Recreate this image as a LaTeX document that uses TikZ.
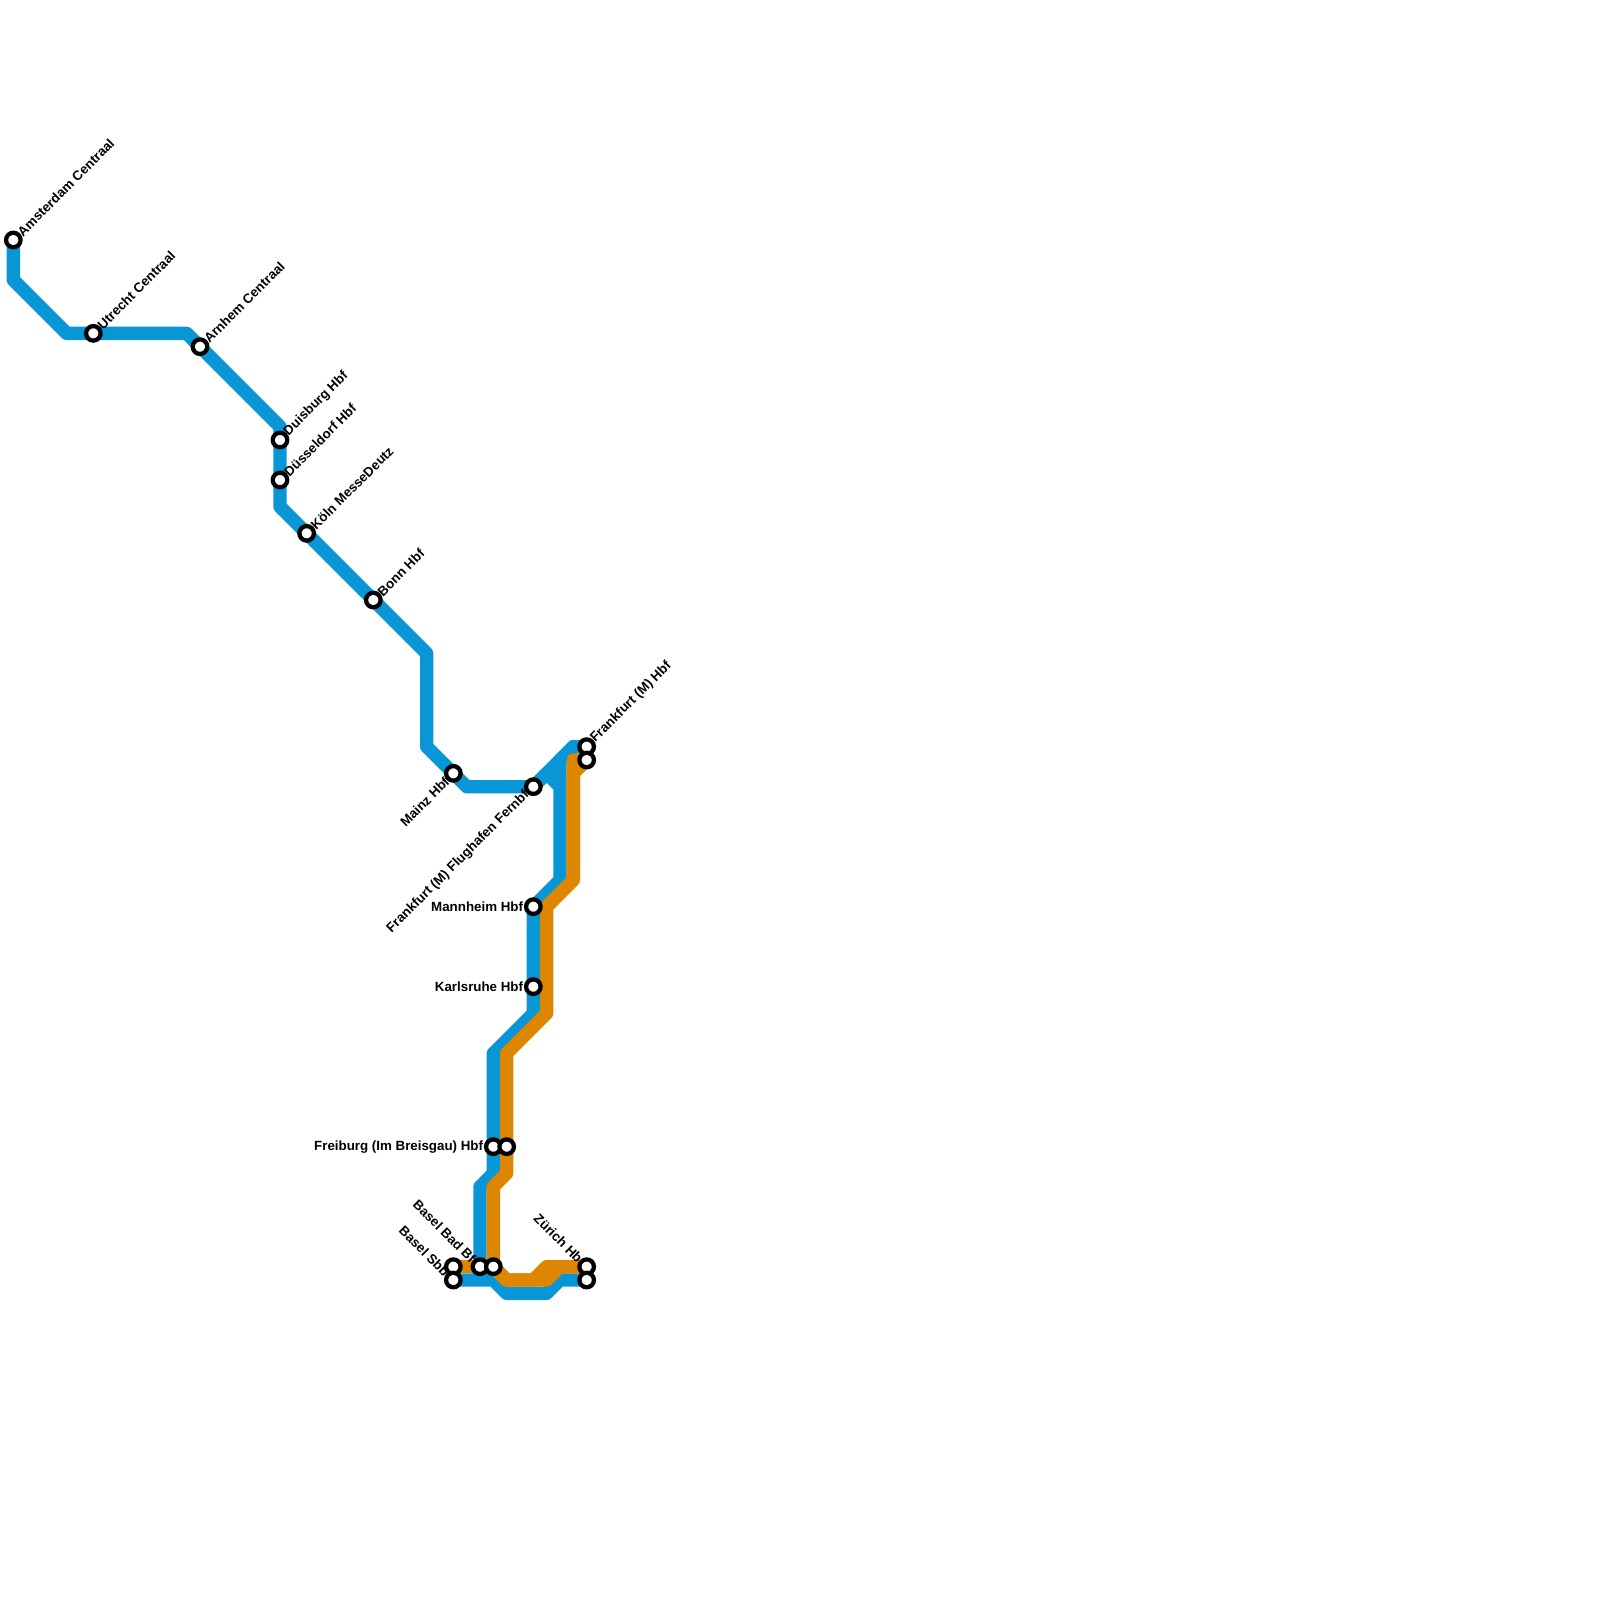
\documentclass[tikz,border=0pt]{standalone}
\usepackage{fontspec}
\setmainfont{Liberation Sans}
\usetikzlibrary{backgrounds}
\definecolor{lineblue}{HTML}{0896D7}
\definecolor{lineorange}{HTML}{DF8600}
\begin{document}
\begin{tikzpicture}[
    x=10pt, y=-10pt,
    station/.style={draw=black, fill=white, circle, line width=3.2pt, minimum size=10.9pt, inner sep=0pt},
    track/.style={line width=10pt, line join=round},
    blueline/.style={track, draw=lineblue},
    orangeline/.style={track, draw=lineorange},
    namelabel/.style={font=\bfseries\fontsize{10}{11}\selectfont, inner sep=0pt},
    uplabel/.style={namelabel, rotate=45, anchor=west, xshift=6.5pt},
    downlabel/.style={namelabel, rotate=45, anchor=east, xshift=-6.5pt},
    backlabel/.style={namelabel, rotate=-45, anchor=east, xshift=-6.5pt},
    sidelabel/.style={namelabel, anchor=east, xshift=-7.5pt}
  ]
    \useasboundingbox (0,0) rectangle (120,120);
    % stations
    \node[station] (amsterdam) at (1,18) {};
    \node[station] (utrecht) at (7,25) {};
    \node[station] (arnhem) at (15,26) {};
    \node[station] (duisburg) at (21,33) {};
    \node[station] (duesseldorf) at (21,36) {};
    \node[station] (koeln) at (23,40) {};
    \node[station] (bonn) at (28,45) {};
    \node[station] (mainz) at (34,58) {};
    \node[station] (flughafen) at (40,59) {};
    \node[station] (frankfurtA) at (44,56) {};
    \node[station] (frankfurtB) at (44,57) {};
    \node[station] (mannheim) at (40,68) {};
    \node[station] (karlsruhe) at (40,74) {};
    \node[station] (freiburgA) at (37,86) {};
    \node[station] (freiburgB) at (38,86) {};
    \node[station] (sbbA) at (34,95) {};
    \node[station] (sbbB) at (34,96) {};
    \node[station] (badA) at (36,95) {};
    \node[station] (badB) at (37,95) {};
    \node[station] (zuerichA) at (44,95) {};
    \node[station] (zuerichB) at (44,96) {};
    % labels
    \node[uplabel] (amsterdamlabel) at (amsterdam) {Amsterdam Centraal};
    \node[uplabel] (utrechtlabel) at (utrecht) {Utrecht Centraal};
    \node[uplabel] (arnhemlabel) at (arnhem) {Arnhem Centraal};
    \node[uplabel] (duisburglabel) at (duisburg) {Duisburg Hbf};
    \node[uplabel] (duesseldorflabel) at (duesseldorf) {Düsseldorf Hbf};
    \node[uplabel] (koelnlabel) at (koeln) {Köln MesseDeutz};
    \node[uplabel] (bonnlabel) at (bonn) {Bonn Hbf};
    \node[uplabel] (frankfurtlabel) at (frankfurtA) {Frankfurt (M) Hbf};
    \node[downlabel] (mainzlabel) at (mainz) {Mainz Hbf};
    \node[downlabel] (flughafenlabel) at (flughafen) {Frankfurt (M) Flughafen Fernbf};
    \node[sidelabel] (mannheimlabel) at (mannheim) {Mannheim Hbf};
    \node[sidelabel] (karlsruhelabel) at (karlsruhe) {Karlsruhe Hbf};
    \node[sidelabel] (freiburglabel) at (freiburgA) {Freiburg (Im Breisgau) Hbf};
    \node[backlabel] (badlabel) at (badA) {Basel Bad Bf};
    \node[backlabel] (sbblabel) at (sbbB) {Basel Sbb};
    \node[backlabel] (zuerichlabel) at (zuerichA) {Zürich Hb};
    \begin{scope}[on background layer]
      \draw[orangeline] (sbbA.center) -- (badA.center);
      % north to south
      \draw[blueline] (amsterdam.center) -- (1,21) -- (5,25) -- (utrecht.center) -- (14,25) -- (arnhem.center)
        -- (21,32) -- (duisburg.center) -- (duesseldorf.center) -- (21,38) -- (koeln.center) -- (bonn.center)
        -- (32,49) -- (32,56) -- (mainz.center) -- (35,59) -- (flughafen.center) -- (43,56) -- (frankfurtA.center);
      \draw[blueline] (frankfurtA.center) -- (43,56) -- (42,57) -- (42,66) -- (mannheim.center) -- (karlsruhe.center)
        -- (40,76) -- (37,79) -- (freiburgA.center) -- (37,88) -- (36,89) -- (badA.center) -- (36,96);
      \draw[blueline] (flughafen.center) -- (41,58) -- (42,59);
      \draw[blueline] (sbbB.center) -- (37,96) -- (38,97) -- (41,97) -- (42,96) -- (zuerichB.center);
      \draw[orangeline] (frankfurtB.center) -- (43,57) -- (43,66) -- (41,68) -- (41,76) -- (38,79) -- (freiburgB.center)
        -- (38,88) -- (37,89) -- (badB.center) -- (38,96) -- (40,96) -- (41,95) -- (zuerichA.center);
      \draw[orangeline] (frankfurtB.center) -- (43,58) -- (43,66);
      \draw[orangeline] (badB.center) -- (38,96) -- (41,96) -- (42,95) -- (zuerichA.center);
    \end{scope}
  \end{tikzpicture}
\end{document}
